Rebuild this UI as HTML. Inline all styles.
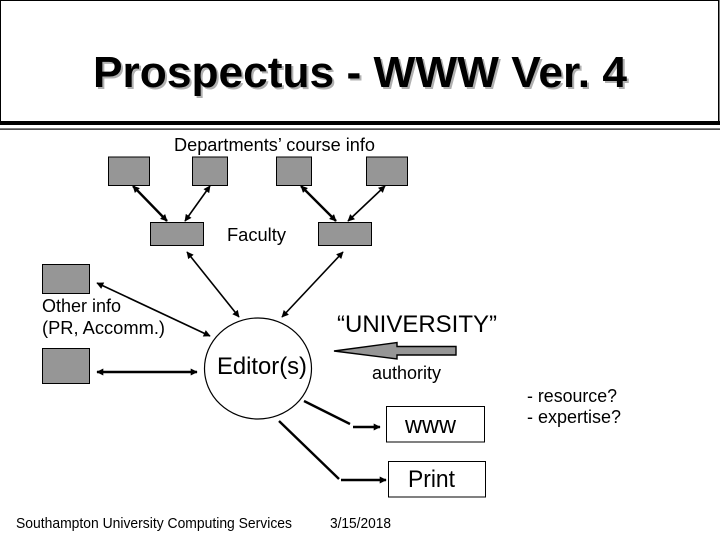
<!DOCTYPE html>
<html>
<head>
<meta charset="utf-8">
<style>
html,body{margin:0;padding:0;background:#fff;}
svg{display:block;}
text{font-family:"Liberation Sans",sans-serif;fill:#000;}
.b{fill:#969696;stroke:#000;stroke-width:1;}
.w{fill:#fff;stroke:#000;stroke-width:1;}
.l{stroke:#000;stroke-width:1.6;fill:none;}
.k{stroke:#000;stroke-width:2.4;fill:none;}
</style>
</head>
<body>
<svg width="720" height="540" viewBox="0 0 720 540" xmlns="http://www.w3.org/2000/svg">
<defs>
<marker id="e" viewBox="0 0 10 10" refX="9" refY="5" markerWidth="9" markerHeight="7" markerUnits="userSpaceOnUse" orient="auto-start-reverse"><path d="M0 0L10 5L0 10Z" fill="#000"/></marker>
</defs>
<rect width="720" height="540" fill="#fff"/>
<!-- header -->
<path d="M0.5 122V0.5H718.5V122" fill="none" stroke="#000" stroke-width="1"/>
<rect x="718" y="0" width="1.5" height="122" fill="#000"/>
<rect x="0" y="121" width="720" height="4" fill="#000"/>
<rect x="0" y="128.5" width="720" height="1.2" fill="#000"/>
<text x="95" y="89" font-size="44" font-weight="bold" style="fill:#b0b0b0" textLength="534" lengthAdjust="spacingAndGlyphs">Prospectus - WWW Ver. 4</text>
<text x="93" y="87" font-size="44" font-weight="bold" textLength="534" lengthAdjust="spacingAndGlyphs">Prospectus - WWW Ver. 4</text>

<!-- boxes -->
<rect class="b" x="108.5" y="157" width="41" height="28.5"/>
<rect class="b" x="192.5" y="157" width="35" height="28.5"/>
<rect class="b" x="276.5" y="157" width="35" height="28.5"/>
<rect class="b" x="366.5" y="157" width="41" height="28.5"/>
<rect class="b" x="150.5" y="222.5" width="53" height="23"/>
<rect class="b" x="318.5" y="222.5" width="53" height="23"/>
<rect class="b" x="42.5" y="264.5" width="47" height="29"/>
<rect class="b" x="42.5" y="348.5" width="47" height="35"/>

<!-- circle -->
<ellipse cx="258" cy="368.5" rx="53.5" ry="50.5" fill="#fff" stroke="#000" stroke-width="1.2"/>

<!-- double arrows -->
<line class="k" x1="133" y1="186" x2="167" y2="221" marker-start="url(#e)" marker-end="url(#e)"/>
<line class="l" x1="210" y1="186" x2="185" y2="221" marker-start="url(#e)" marker-end="url(#e)"/>
<line class="k" x1="301" y1="186" x2="336" y2="221" marker-start="url(#e)" marker-end="url(#e)"/>
<line class="l" x1="385" y1="186" x2="348" y2="221" marker-start="url(#e)" marker-end="url(#e)"/>
<line class="l" x1="187" y1="252" x2="239" y2="317" marker-start="url(#e)" marker-end="url(#e)"/>
<line class="l" x1="343" y1="252" x2="282" y2="317" marker-start="url(#e)" marker-end="url(#e)"/>
<line class="l" x1="97" y1="283" x2="210" y2="336" marker-start="url(#e)" marker-end="url(#e)"/>
<line class="k" x1="97" y1="372" x2="197" y2="372" marker-start="url(#e)" marker-end="url(#e)"/>

<!-- big arrow -->
<path d="M334 351L397 342.5V346.5H456V355H397V359Z" fill="#969696" stroke="#000" stroke-width="1.4"/>

<!-- outgoing -->
<line x1="304" y1="401" x2="350" y2="424" stroke="#000" stroke-width="2.4"/>
<line x1="353" y1="427" x2="380" y2="427" stroke="#000" stroke-width="2.4" marker-end="url(#e)"/>
<line x1="279" y1="421" x2="339" y2="479" stroke="#000" stroke-width="2.4"/>
<line x1="341" y1="480" x2="386" y2="480" stroke="#000" stroke-width="2.4" marker-end="url(#e)"/>

<rect class="w" x="386.5" y="406.5" width="98" height="35.5"/>
<rect class="w" x="388.5" y="461.5" width="97" height="35.5"/>

<!-- labels -->
<text x="174" y="151" font-size="18" textLength="201" lengthAdjust="spacingAndGlyphs">Departments’ course info</text>
<text x="227" y="241" font-size="18" textLength="59" lengthAdjust="spacingAndGlyphs">Faculty</text>
<text x="42" y="312" font-size="18" textLength="79" lengthAdjust="spacingAndGlyphs">Other info</text>
<text x="42" y="334" font-size="18" textLength="123" lengthAdjust="spacingAndGlyphs">(PR, Accomm.)</text>
<text x="217" y="374" font-size="24" textLength="90" lengthAdjust="spacingAndGlyphs">Editor(s)</text>
<text x="337" y="332" font-size="24" textLength="160" lengthAdjust="spacingAndGlyphs">“UNIVERSITY”</text>
<text x="372" y="379" font-size="18" textLength="69" lengthAdjust="spacingAndGlyphs">authority</text>
<text x="405" y="433" font-size="24" textLength="51" lengthAdjust="spacingAndGlyphs">www</text>
<text x="408" y="487" font-size="24" textLength="47" lengthAdjust="spacingAndGlyphs">Print</text>
<text x="527" y="402" font-size="18" textLength="90" lengthAdjust="spacingAndGlyphs">- resource?</text>
<text x="527" y="423" font-size="18" textLength="94" lengthAdjust="spacingAndGlyphs">- expertise?</text>
<text x="16" y="528" font-size="14.5" textLength="276" lengthAdjust="spacingAndGlyphs">Southampton University Computing Services</text>
<text x="330" y="528" font-size="14.5" textLength="61" lengthAdjust="spacingAndGlyphs">3/15/2018</text>
</svg>
</body>
</html>
